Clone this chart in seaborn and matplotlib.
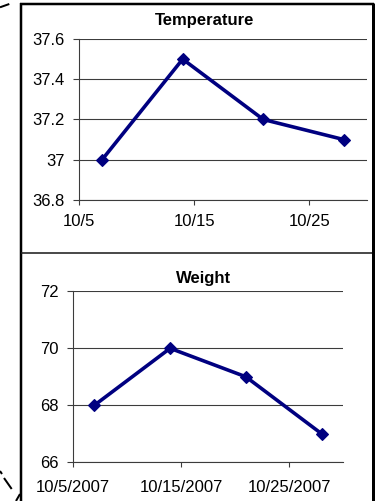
import matplotlib
matplotlib.use("Agg")
import matplotlib.pyplot as plt
from matplotlib.lines import Line2D
import pandas as pd
import seaborn as sns

# Weekly measurements
dates = ["2007-10-07", "2007-10-14", "2007-10-21", "2007-10-28"]
temperature = [37.0, 37.5, 37.2, 37.1]
weight = [68, 70, 69, 67]

# Axis ticks and labels
temp_yticks = [36.8, 37.0, 37.2, 37.4, 37.6]
temp_ylabels = ["36.8", "37", "37.2", "37.4", "37.6"]
weight_yticks = [66, 68, 70, 72]
weight_ylabels = ["66", "68", "70", "72"]
xtick_dates = ["2007-10-05", "2007-10-15", "2007-10-25"]
temp_xlabels = ["10/5", "10/15", "10/25"]
weight_xlabels = ["10/5/2007", "10/15/2007", "10/25/2007"]
x_range = ["2007-10-05", "2007-10-30"]

W, H = 376, 501
NAVY = "#000080"
GRID = "#3c3c3c"
PX = 72 / 100  # points per pixel at dpi 100

sns.set_theme(style="white")
plt.rcParams["font.family"] = ["Liberation Sans", "DejaVu Sans"]
plt.rcParams["text.color"] = "black"

df = pd.DataFrame({"date": pd.to_datetime(dates),
                   "temperature": temperature,
                   "weight": weight})

fig = plt.figure(figsize=(W / 100, H / 100), dpi=100)
fig.patch.set_facecolor("white")


def fx(px):
    return px / W


def fy(py):
    return 1 - py / H


def panel(rect_px, col, yticks, ylabels, xlabels, xpad):
    left, top, right, bottom = rect_px
    ax = fig.add_axes([fx(left), fy(bottom), (right - left) / W, (bottom - top) / H])
    sns.lineplot(data=df, x="date", y=col, ax=ax, color=NAVY,
                 linewidth=3.6 * PX, marker="D", markersize=6.6,
                 markeredgecolor=NAVY, markeredgewidth=0.8, zorder=3)
    ax.set_xlim(pd.Timestamp(x_range[0]), pd.Timestamp(x_range[1]))
    ax.set_ylim(yticks[0], yticks[-1])
    ax.set_yticks(yticks)
    ax.set_yticklabels(ylabels)
    ax.set_xticks(pd.to_datetime(xtick_dates))
    ax.set_xticklabels(xlabels)
    ax.set_xlabel("")
    ax.set_ylabel("")
    ax.yaxis.grid(True, color=GRID, linewidth=1.1 * PX)
    ax.xaxis.grid(False)
    for s in ("top", "right"):
        ax.spines[s].set_visible(False)
    for s in ("left", "bottom"):
        ax.spines[s].set_color(GRID)
        ax.spines[s].set_linewidth(1.1 * PX)
    ax.tick_params(axis="y", direction="out", length=6 * PX, width=1.1 * PX,
                   color=GRID, labelsize=12, labelcolor="black", pad=6, left=True)
    ax.tick_params(axis="x", direction="out", length=5 * PX, width=1.1 * PX,
                   color=GRID, labelsize=12, labelcolor="black", pad=xpad, bottom=True)
    ax.set_facecolor("none")
    return ax


panel((79, 39, 367, 200), "temperature", temp_yticks, temp_ylabels, temp_xlabels, 6.5)
panel((72.7, 291.3, 343.3, 462.3), "weight", weight_yticks, weight_ylabels, weight_xlabels, 9.5)

fig.text(fx(204.5), fy(25), "Temperature", ha="center", va="baseline",
         fontsize=12, fontweight="bold", color="black")
fig.text(fx(204), fy(283.5), "Weight", ha="center", va="baseline",
         fontsize=12, fontweight="bold", color="black")


def seg(x0, y0, x1, y1, lw, color="black", ls="-"):
    fig.add_artist(Line2D([fx(x0), fx(x1)], [fy(y0), fy(y1)],
                          transform=fig.transFigure, color=color,
                          linewidth=lw * PX, linestyle=ls,
                          solid_capstyle="butt"))


# Chart frame and divider
seg(21, 3, 21, 501, 2.5)
seg(20, 4, 373.5, 4, 2.5)
seg(372.5, 3, 372.5, 501, 3)
seg(21, 253, 372, 253, 1.6, color="#202020")

# Corner marks
seg(0, 7.3, 9.3, 4, 2)
seg(0, 471, 2, 474, 2)
seg(4, 478, 11.7, 489, 2)
seg(20, 494, 16, 501, 2)

fig.savefig("out.png", dpi=100)
